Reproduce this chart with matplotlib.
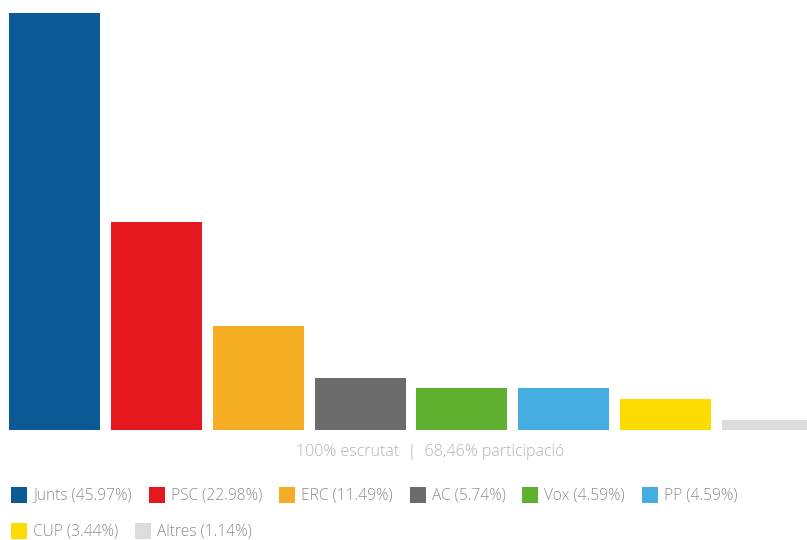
import matplotlib
matplotlib.use("Agg")
import matplotlib.pyplot as plt
from matplotlib.patches import Rectangle

plt.rcParams['font.family'] = ['Open Sans', 'DejaVu Sans']

# Results (share of vote, %)
parties = ['Junts', 'PSC', 'ERC', 'AC', 'Vox', 'PP', 'CUP', 'Altres']
values = [45.97, 22.98, 11.49, 5.74, 4.59, 4.59, 3.44, 1.14]
labels = [f'{p} ({v:.2f}%)' for p, v in zip(parties, values)]
colors = ['#0b5a96', '#e3171d', '#f5ae23', '#6b6b6b',
          '#5fb02f', '#46ade3', '#fcdb00', '#dcdcdc']
footer = '100% escrutat  |  68,46% participació'

W, H = 807, 540
fig = plt.figure(figsize=(W / 100, H / 100), dpi=100)

# plot area: baseline at y=430px, Junts top at 13px; bar pitch ~101.7px
ax = fig.add_axes([0, (H - 430) / H, 1, 417 / H])
x = list(range(len(parties)))
ax.bar(x, values, width=0.895, color=colors, align='center')
ax.set_xlim(-0.538, 7.39)
ax.set_ylim(0, max(values))
ax.axis('off')

fig.text(430 / W, 1 - 452 / H, footer, ha='center', va='center',
         fontsize=11.5, color='#b3b3b3', fontweight='light')

# legend laid out as flowing rows of swatch + text
fig.canvas.draw()
renderer = fig.canvas.get_renderer()
px, row_y = 11, 495
for lab, col in zip(labels, colors):
    t = fig.text(0, 0, lab, fontsize=11.2, color='#8c8c8c', fontweight='light',
                 va='center', ha='left')
    tw = t.get_window_extent(renderer).width
    if px + 22 + tw > W - 10:
        px, row_y = 11, row_y + 36
    fig.patches.append(Rectangle((px / W, 1 - (row_y + 8) / H), 16 / W, 16 / H,
                                 transform=fig.transFigure, facecolor=col,
                                 edgecolor='none'))
    t.set_position(((px + 22) / W, 1 - row_y / H))
    px = px + 22 + tw + 17

fig.savefig('out.png', dpi=100, facecolor='white')
